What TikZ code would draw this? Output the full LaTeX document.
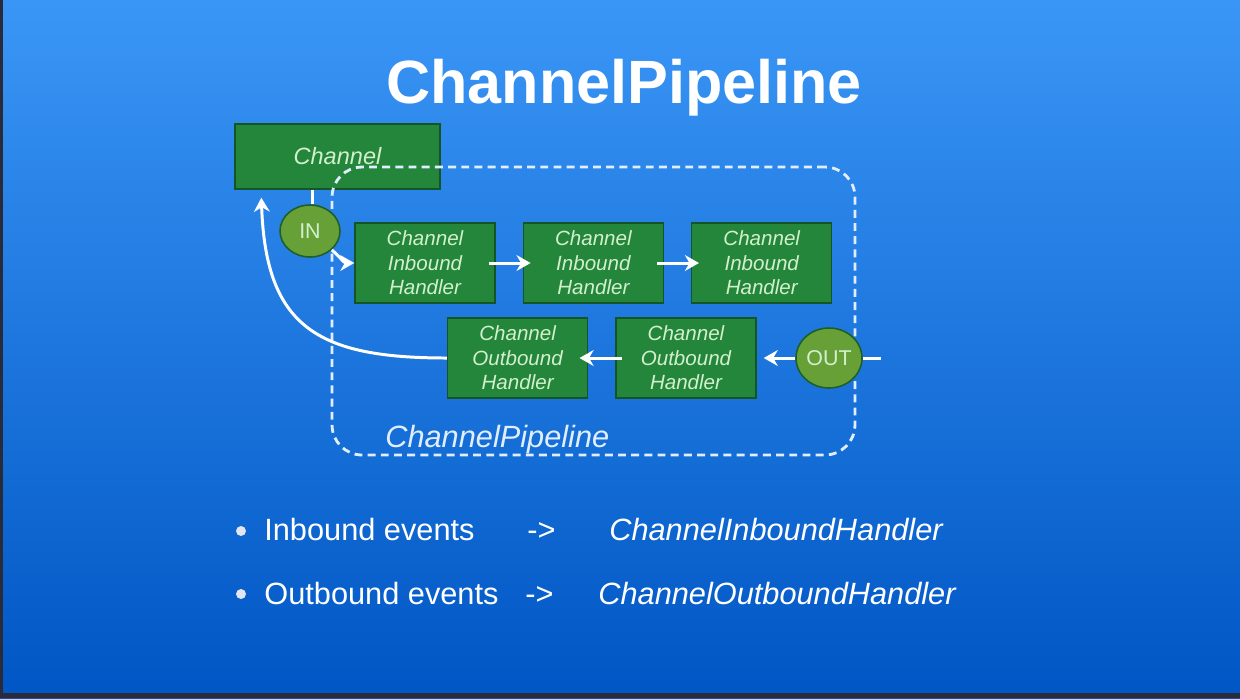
\documentclass[tikz,border=0pt]{standalone}
\usepackage{fontspec}
\setmainfont{Liberation Sans}
\usepackage{tikz}
\usetikzlibrary{shapes,arrows,arrows.meta,positioning}
\usepackage{xcolor}
\definecolor{bgtop}{RGB}{58,150,246}
\definecolor{bgbottom}{RGB}{0,86,196}
\definecolor{screenedge}{RGB}{40,44,58}
\definecolor{boxgreen}{RGB}{36,134,58}
\definecolor{boxedge}{RGB}{20,85,40}
\definecolor{boxtext}{RGB}{210,240,205}
\definecolor{ovalgreen}{RGB}{104,160,56}
\definecolor{ovaledge}{RGB}{30,95,40}
\definecolor{pipewhite}{RGB}{225,238,255}
\definecolor{dotgray}{RGB}{225,230,240}

\begin{document}
\begin{tikzpicture}[x=0.02cm, y=-0.02cm,
        handler/.style={rectangle, draw=boxedge, line width=0.8pt, fill=boxgreen, minimum width=2.8cm, minimum height=1.6cm, inner sep=0pt, align=center, text=boxtext, font=\fontsize{11.7}{14}\selectfont\itshape},
        evt/.style={ellipse, draw=ovaledge, line width=0.9pt, fill=ovalgreen, inner sep=0pt, text=boxtext, font=\fontsize{12.2}{14}\selectfont},
        pipe/.style={rectangle, draw=pipewhite, line width=1.6pt, rounded corners=0.6cm, dash pattern=on 4.5pt off 3pt},
        itemtext/.style={anchor=base west, inner sep=0pt, text=white, font=\fontsize{17.5}{21}\selectfont},
        dot/.style={circle, fill=dotgray, inner sep=0pt, minimum size=0.2cm},
        arrow/.style={-{Stealth[length=8pt, width=9pt]}, line width=1.7pt, white},
        flow/.style={line width=1.7pt, white}
    ]
        % background
        \shade[top color=bgtop, bottom color=bgbottom] (0,0) rectangle (1240,698);
        \fill[screenedge] (0,0) rectangle (3,698);
        \fill[screenedge] (0,693) rectangle (1240,698);

        \node[anchor=base, inner sep=0pt, text=white, font=\fontsize{34.8}{40}\selectfont\bfseries] (title) at (624,103) {ChannelPipeline};

        \node[handler, minimum width=4.1cm, minimum height=1.3cm, font=\fontsize{13.4}{16}\selectfont\itshape] (channel) at (337.5,156.5) {Channel};
        \node[pipe, minimum width=10.46cm, minimum height=5.76cm] (pipeline) at (593.5,311) {};
        \node[anchor=base west, inner sep=0pt, text=pipewhite, font=\fontsize{17.5}{20}\selectfont\itshape] (pipename) at (385,447) {ChannelPipeline};

        \node[evt, minimum width=1.2cm, minimum height=1.04cm] (in) at (310,231) {IN};
        \node[evt, minimum width=1.32cm, minimum height=1.2cm] (out) at (829,358) {OUT};

        \node[handler] (ib1) at (425,263) {Channel\\Inbound\\Handler};
        \node[handler, right=0.54cm of ib1] (ib2) {Channel\\Inbound\\Handler};
        \node[handler, right=0.54cm of ib2] (ib3) {Channel\\Inbound\\Handler};
        \node[handler] (obb) at (686,358) {Channel\\Outbound\\Handler};
        \node[handler, left=0.54cm of obb] (oba) {Channel\\Outbound\\Handler};

        \coordinate (outsrc) at (881,358);
        \coordinate (back) at ([shift={(27,8)}]channel.south west);

        \draw[flow] ([xshift=1.5pt]channel.south -| in.north) -- ([xshift=1.5pt]in.north);
        \draw[arrow] (in.south east) to[out=-40, in=180] (ib1.west);
        \draw[arrow, shorten <=-4pt, shorten >=-4.5pt] (ib1) -- (ib2);
        \draw[arrow, shorten <=-4pt, shorten >=-4.5pt] (ib2) -- (ib3);
        \draw[flow] (outsrc) -- (out);
        \draw[arrow, shorten >=4pt] (out) -- (obb);
        \draw[arrow, shorten <=-4pt, shorten >=-5pt] (obb) -- (oba);
        \draw[arrow] (oba.west) to[out=180, in=-88, looseness=1.35] (back);

        \node[dot] (d1) at (241,531) {};
        \node[itemtext] (ev1) at (264,540) {Inbound events};
        \node[itemtext] (ar1) at (527,540) {->};
        \node[itemtext, font=\fontsize{17.5}{21}\selectfont\itshape] (h1) at (609,540) {ChannelInboundHandler};
        \node[dot] (d2) at (241,594) {};
        \node[itemtext] (ev2) at (264,604) {Outbound events};
        \node[itemtext] (ar2) at (525,604) {->};
        \node[itemtext, font=\fontsize{17.5}{21}\selectfont\itshape] (h2) at (598,604) {ChannelOutboundHandler};
    \end{tikzpicture}
\end{document}
